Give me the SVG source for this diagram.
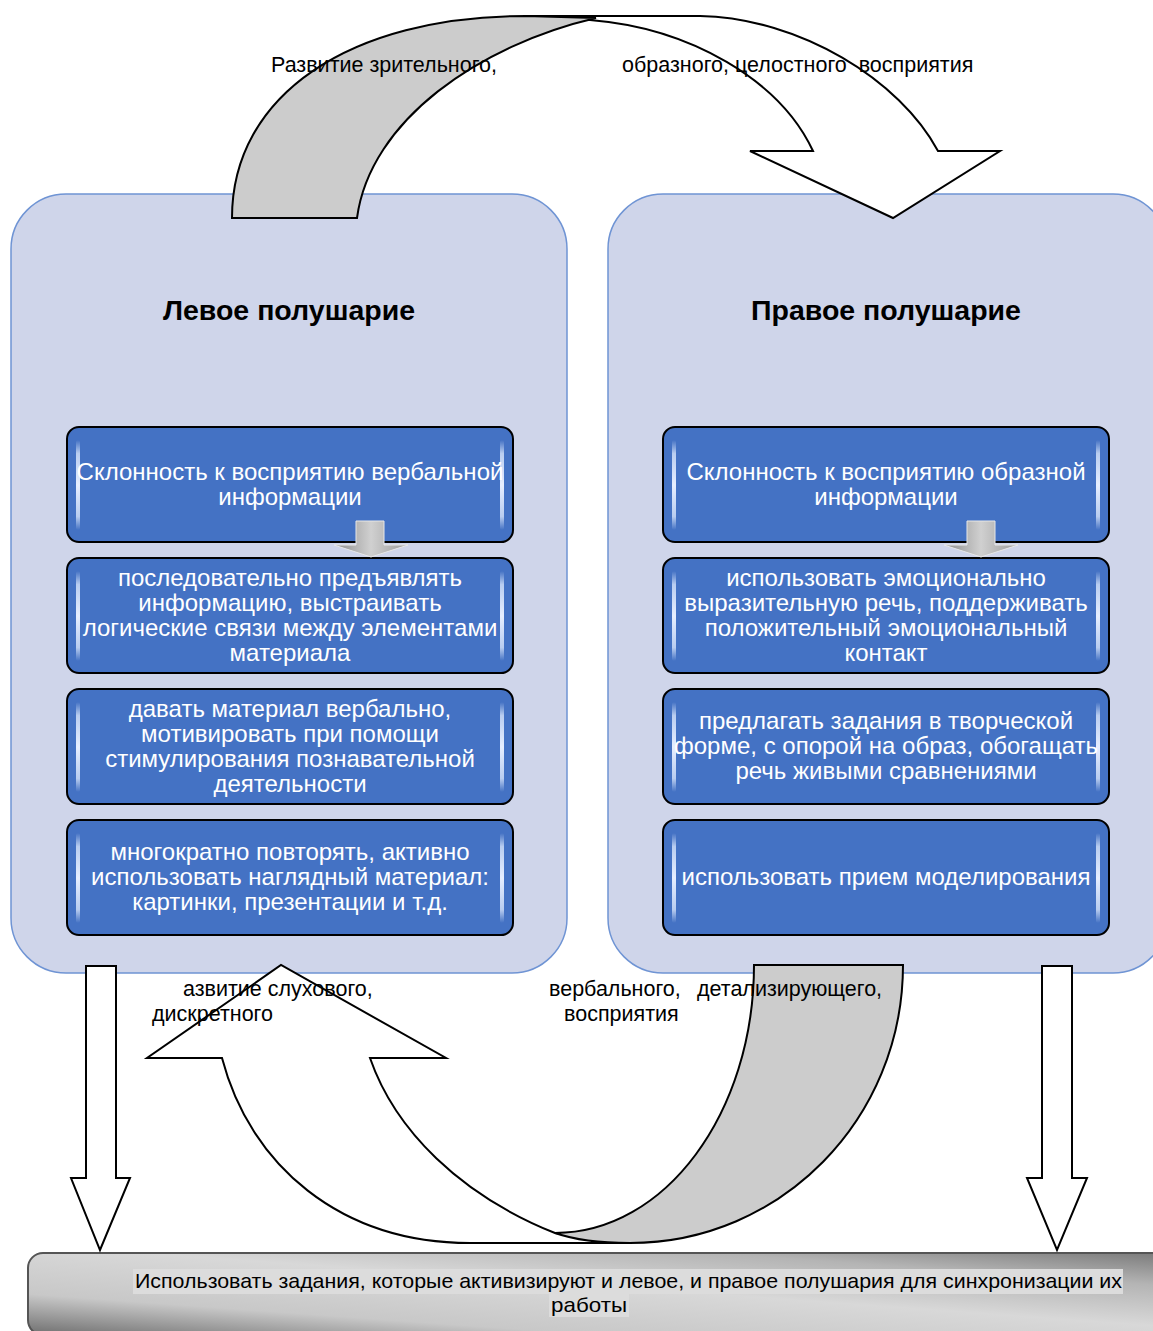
<svg xmlns="http://www.w3.org/2000/svg" width="1153" height="1331" viewBox="0 0 1153 1331">
<defs>
<style>
.panel{fill:#cfd5ea;stroke:#6f94d4;stroke-width:1.5}
.title{font-family:"Liberation Sans",Arial,sans-serif;font-size:28.5px;font-weight:bold;fill:#000;text-anchor:middle}
.box{fill:#4472c4;stroke:#000;stroke-width:2}
.bt{font-family:"Liberation Sans",Arial,sans-serif;font-size:24px;fill:#fff;text-anchor:middle}
.lbl{font-family:"Liberation Sans",Arial,sans-serif;font-size:21.5px;fill:#000}
.btm{font-family:"Liberation Sans",Arial,sans-serif;font-size:21px;fill:#000}
.arr{fill:#fff;stroke:#000;stroke-width:2;stroke-linejoin:miter}
.garr{fill:#cccccc;stroke:#000;stroke-width:2}
.hl{fill:url(#hlg)}
.sm{fill:url(#smg);stroke:#e8e8e8;stroke-width:1}
</style>
<linearGradient id="hlg" x1="0" y1="0" x2="0" y2="1">
<stop offset="0" stop-color="#4472c4"/>
<stop offset="0.15" stop-color="#b9cdf0"/>
<stop offset="0.5" stop-color="#e6eeff"/>
<stop offset="0.85" stop-color="#b9cdf0"/>
<stop offset="1" stop-color="#4472c4"/>
</linearGradient>
<linearGradient id="smg" x1="0" y1="0" x2="1" y2="0">
<stop offset="0" stop-color="#8c8c8c"/>
<stop offset="0.5" stop-color="#d0d0d0"/>
<stop offset="1" stop-color="#9a9a9a"/>
</linearGradient>
<linearGradient id="bg" x1="0" y1="1" x2="1" y2="0">
<stop offset="0" stop-color="#6e6e6e"/>
<stop offset="0.25" stop-color="#c8c8c8"/>
<stop offset="0.55" stop-color="#d8d8d8"/>
<stop offset="0.8" stop-color="#b4b4b4"/>
<stop offset="1" stop-color="#7a7a7a"/>
</linearGradient>
</defs>
<rect width="1153" height="1331" fill="#fff"/>

<g id="left-panel">
<rect class="panel" x="11" y="194" width="556" height="779" rx="55"/>
<text class="title" x="289" y="320">Левое полушарие</text>
</g>
<g id="right-panel">
<rect class="panel" x="608" y="194" width="560" height="779" rx="55"/>
<text class="title" x="886" y="320">Правое полушарие</text>
</g>

<g id="L1">
<rect class="box" x="67" y="427" width="446" height="115" rx="12"/>
<rect class="hl" x="76" y="440" width="4" height="90" rx="2"/>
<rect class="hl" x="500" y="440" width="4" height="90" rx="2"/>
<text class="bt" x="290" y="480">Склонность к восприятию вербальной</text>
<text class="bt" x="290" y="505">информации</text>
</g>
<g id="L2">
<rect class="box" x="67" y="558" width="446" height="115" rx="12"/>
<rect class="hl" x="76" y="571" width="4" height="90" rx="2"/>
<rect class="hl" x="500" y="571" width="4" height="90" rx="2"/>
<text class="bt" x="290" y="586">последовательно предъявлять</text>
<text class="bt" x="290" y="611">информацию, выстраивать</text>
<text class="bt" x="290" y="636">логические связи между элементами</text>
<text class="bt" x="290" y="661">материала</text>
</g>
<g id="L3">
<rect class="box" x="67" y="689" width="446" height="115" rx="12"/>
<rect class="hl" x="76" y="702" width="4" height="90" rx="2"/>
<rect class="hl" x="500" y="702" width="4" height="90" rx="2"/>
<text class="bt" x="290" y="717">давать материал вербально,</text>
<text class="bt" x="290" y="742">мотивировать при помощи</text>
<text class="bt" x="290" y="767">стимулирования познавательной</text>
<text class="bt" x="290" y="792">деятельности</text>
</g>
<g id="L4">
<rect class="box" x="67" y="820" width="446" height="115" rx="12"/>
<rect class="hl" x="76" y="833" width="4" height="90" rx="2"/>
<rect class="hl" x="500" y="833" width="4" height="90" rx="2"/>
<text class="bt" x="290" y="860">многократно повторять, активно</text>
<text class="bt" x="290" y="885">использовать наглядный материал:</text>
<text class="bt" x="290" y="910">картинки, презентации и т.д.</text>
</g>

<g id="R1">
<rect class="box" x="663" y="427" width="446" height="115" rx="12"/>
<rect class="hl" x="672" y="440" width="4" height="90" rx="2"/>
<rect class="hl" x="1096" y="440" width="4" height="90" rx="2"/>
<text class="bt" x="886" y="480">Склонность к восприятию образной</text>
<text class="bt" x="886" y="505">информации</text>
</g>
<g id="R2">
<rect class="box" x="663" y="558" width="446" height="115" rx="12"/>
<rect class="hl" x="672" y="571" width="4" height="90" rx="2"/>
<rect class="hl" x="1096" y="571" width="4" height="90" rx="2"/>
<text class="bt" x="886" y="586">использовать эмоционально</text>
<text class="bt" x="886" y="611">выразительную речь, поддерживать</text>
<text class="bt" x="886" y="636">положительный эмоциональный</text>
<text class="bt" x="886" y="661">контакт</text>
</g>
<g id="R3">
<rect class="box" x="663" y="689" width="446" height="115" rx="12"/>
<rect class="hl" x="672" y="702" width="4" height="90" rx="2"/>
<rect class="hl" x="1096" y="702" width="4" height="90" rx="2"/>
<text class="bt" x="886" y="729">предлагать задания в творческой</text>
<text class="bt" x="886" y="754">форме, с опорой на образ, обогащать</text>
<text class="bt" x="886" y="779">речь живыми сравнениями</text>
</g>
<g id="R4">
<rect class="box" x="663" y="820" width="446" height="115" rx="12"/>
<rect class="hl" x="672" y="833" width="4" height="90" rx="2"/>
<rect class="hl" x="1096" y="833" width="4" height="90" rx="2"/>
<text class="bt" x="886" y="885">использовать прием моделирования</text>
</g>

<g id="bottom-box">
<rect x="28" y="1253" width="1140" height="82" rx="15" fill="url(#bg)" stroke="#555" stroke-width="2"/>
<rect x="133" y="1269" width="990" height="25" fill="#dcdcdc"/>
<rect x="549" y="1294" width="80" height="23" fill="#dcdcdc"/>
<text class="btm" x="135" y="1288" textLength="987" lengthAdjust="spacingAndGlyphs">Использовать задания, которые активизируют и левое, и правое полушария для синхронизации их</text>
<text class="btm" x="551" y="1312" textLength="76" lengthAdjust="spacingAndGlyphs">работы</text>
</g>

<g id="connectors">
<path class="sm" d="M356,521 L384,521 L384,545 L408,545 L371,557 L334,545 L356,545 Z"/>
<path class="sm" d="M967,521 L995,521 L995,545 L1018,545 L981,557 L944,545 L967,545 Z"/>
<path class="arr" d="M590,20 C690,28 780,80 813,151 L750,151 L893,218 L1000,151 L938,151 C900,80 800,18 700,16 L526,16 Z"/>
<path class="garr" d="M232,218 C232,95 350,16 526,16 L596,18 C480,45 370,120 357,218 Z"/>
<path class="arr" d="M555,1233 C460,1195 395,1130 370,1058 L446,1058 L281,965 L147,1058 L222,1058 C250,1165 340,1243 470,1243 L630,1243 Z"/>
<path class="garr" d="M754,965 L903,965 C903,1119 781,1243 630,1243 C600,1243 575,1240 555,1233 C665,1233 754,1113 754,965 Z"/>
<path class="arr" d="M86,966 L116,966 L116,1178 L130,1178 L100,1250 L71,1178 L86,1178 Z"/>
<path class="arr" d="M1042,966 L1072,966 L1072,1178 L1087,1178 L1057,1250 L1027,1178 L1042,1178 Z"/>
</g>

<g id="labels">
<text class="lbl" x="271" y="72">Развитие зрительного,</text>
<text class="lbl" x="622" y="72" xml:space="preserve">образного, целостного  восприятия</text>
<text class="lbl" x="183" y="996">азвитие слухового,</text>
<text class="lbl" x="152" y="1021">дискретного</text>
<text class="lbl" x="549" y="996">вербального,</text>
<text class="lbl" x="697" y="996">детализирующего,</text>
<text class="lbl" x="564" y="1021">восприятия</text>
</g>
</svg>
